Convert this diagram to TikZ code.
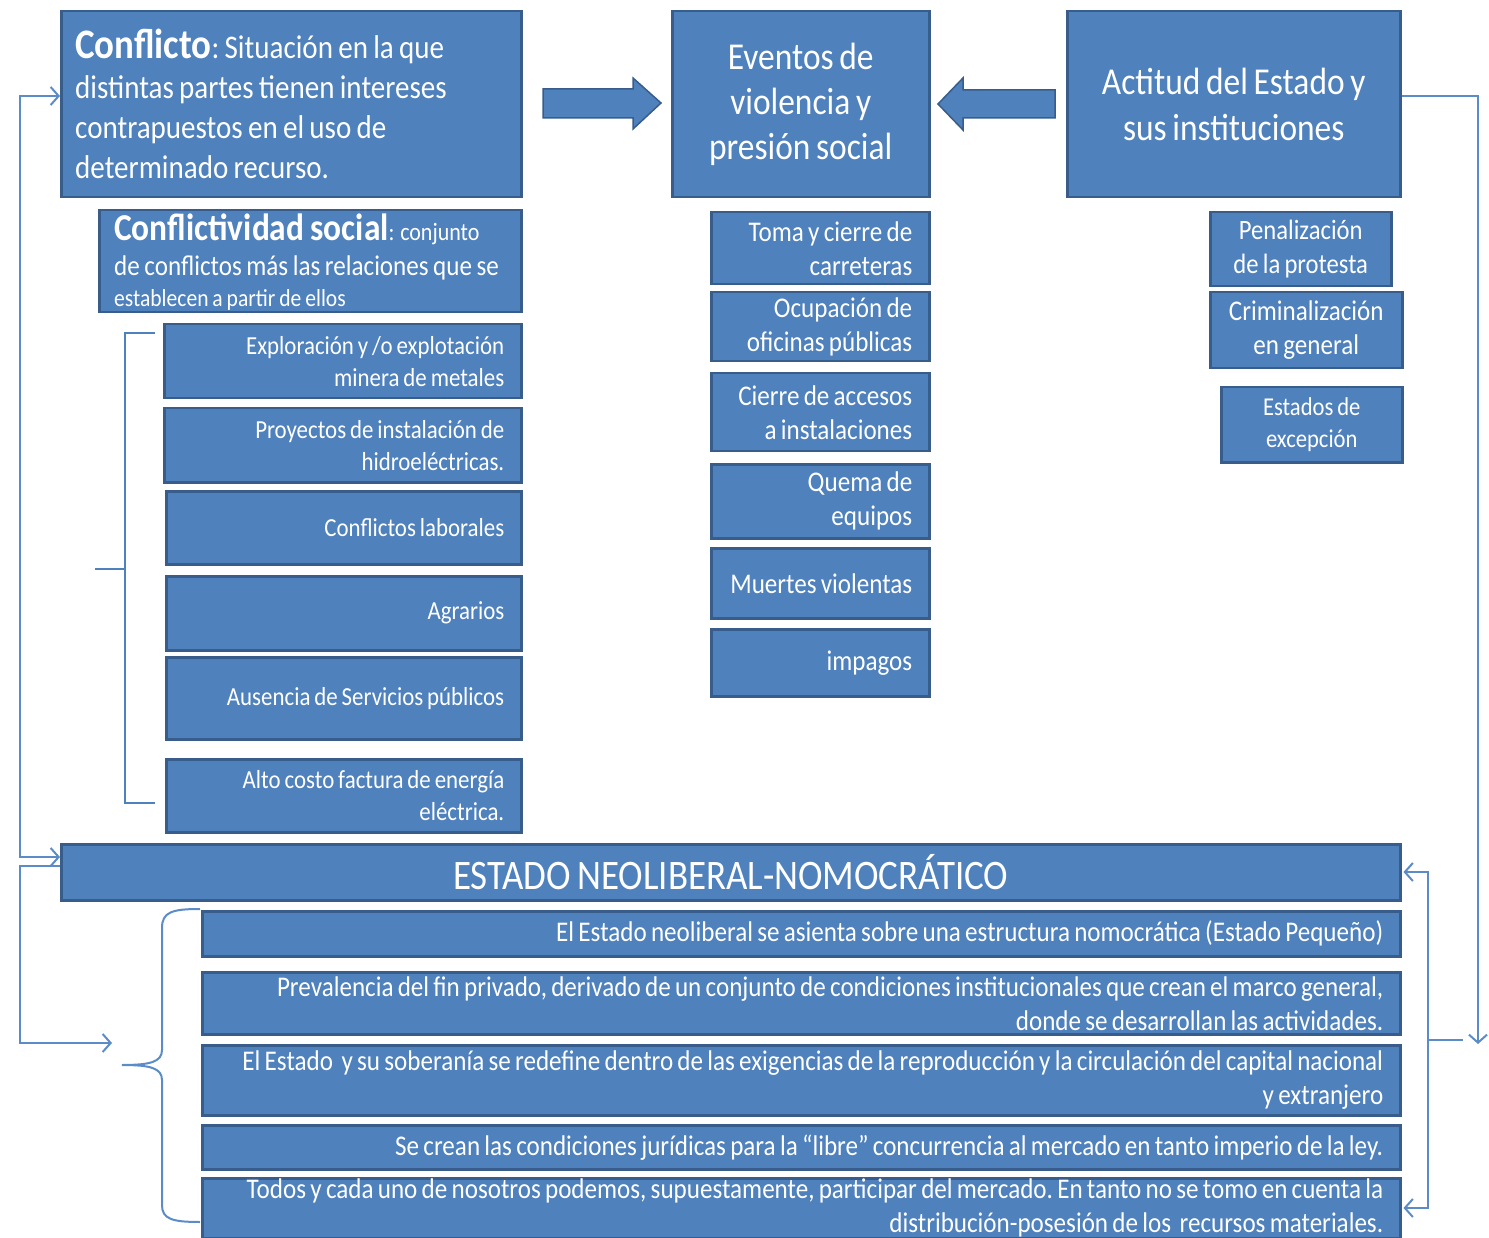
\documentclass[tikz,border=0pt]{standalone}
\usepackage{fontspec}
\setmainfont{Carlito}[FakeStretch=0.88]
\usetikzlibrary{arrows.meta,calc}
\definecolor{bfill}{HTML}{4F81BD}
\definecolor{bline}{HTML}{385D8A}
\definecolor{cline}{HTML}{5B8CC8}
\newcommand\fs[2]{\fontsize{#1}{#2}\selectfont\spaceskip=0.16em\relax}
\newcommand\tsp{\frenchspacing\spaceskip=0.15em\relax\hyphenpenalty=10000\relax\hbadness=10000\relax}
\newcommand\pbox[7]{%
  \pgfmathsetmacro\bw{#5-#3}\pgfmathsetmacro\bh{#6-#4}\pgfmathsetmacro\tw{#5-#3-34}%
  \node[box, minimum width=\bw pt, minimum height=\bh pt, text width=\tw pt, #2] (#1) at (#3,#4) {\tsp #7};}
\begin{document}
\begin{tikzpicture}[x=1pt,y=-1pt,
  box/.style={draw=bline, fill=bfill, line width=2.5pt, text=white, anchor=north west, inner sep=0pt},
  rt/.style={align=right},
  ct/.style={align=center},
  wtxt/.style={text=white, inner sep=0pt},
  conn/.style={draw=cline, line width=2pt},
  tip/.style={-{Straight Barb[length=8pt,width=18pt]}},
  fat/.style={fill=bfill, draw=bline, line width=1.5pt, line join=miter}]
\useasboundingbox (0,0) rectangle (1489,1238);

% top row
\pbox{confl}{}{60}{10}{520}{196}{}
\node[wtxt, anchor=north west, align=left, font=\fs{33}{40}] (conflt) at (75,29)
 {\frenchspacing{\fs{42}{40}\bfseries Conflicto}{\fs{33}{40}: Situación en la que}\\distintas partes tienen intereses\\contrapuestos en el uso de\\determinado recurso.};
\pbox{evt}{ct, font=\fs{38}{45}}{671}{10}{928}{196}{Eventos de\\violencia y\\presión social\\[-4pt]}
\pbox{act}{ct, font=\fs{38}{46}}{1066}{10}{1399}{196}{Actitud del Estado y\\sus instituciones\\[6pt]}

% fat arrows
\draw[fat] (543,89) -- (633,89) -- (633,78) -- (661,103) -- (633,129) -- (633,118) -- (543,118) -- cycle;
\draw[fat] (1055,90) -- (963,90) -- (963,78) -- (938,104) -- (963,130) -- (963,118) -- (1055,118) -- cycle;

% conflictividad
\pbox{csoc}{}{98}{209}{520}{311}{}
\node[wtxt, anchor=north west, align=left, font=\fs{28.5}{35}] (csoct) at (114,214)
 {{\fs{38}{35}\bfseries Conflictividad social}{\fs{25}{35}: conjunto}\\de conflictos más las relaciones que se\\[-4pt]{\fs{24.5}{30}establecen a partir de ellos}};

% left items
\pbox{l1}{rt, font=\fs{26}{32}}{163}{323}{520}{397}{Exploración y /o explotación\\minera de metales}
\pbox{l2}{rt, font=\fs{26}{32}}{163}{407}{520}{481}{Proyectos de instalación de\\hidroeléctricas.}
\pbox{l3}{rt, font=\fs{26}{32}}{165}{490}{520}{563}{Conflictos laborales}
\pbox{l4}{rt, font=\fs{26}{32}}{165}{575}{520}{649}{Agrarios}
\pbox{l5}{rt, font=\fs{26}{32}}{165}{656}{520}{738}{Ausencia de Servicios públicos}
\pbox{l6}{rt, font=\fs{26}{32}}{165}{758}{520}{831}{Alto costo factura de energía\\eléctrica.}

% middle items
\pbox{m1}{rt, font=\fs{28.5}{34}}{710}{211}{928}{283}{Toma y cierre de\\carreteras}
\pbox{m2}{rt, font=\fs{28.5}{34}}{710}{291}{928}{360}{Ocupación de\\oficinas públicas}
\pbox{m3}{rt, font=\fs{28.5}{34}}{710}{372}{928}{450}{Cierre de accesos\\a instalaciones}
\pbox{m4}{rt, font=\fs{28.5}{34}}{710}{463}{928}{537}{Quema de\\equipos}
\pbox{m5}{rt, font=\fs{28.5}{34}}{710}{547}{928}{617}{Muertes violentas}
\pbox{m6}{rt, font=\fs{28.5}{34}}{710}{628}{928}{695}{impagos}

% right items
\pbox{r1}{ct, font=\fs{28}{34}}{1209}{211}{1390}{285}{Penalización\\de la protesta}
\pbox{r2}{ct, font=\fs{28.5}{34}}{1209}{291}{1401}{367}{Criminalización\\en general}
\pbox{r3}{ct, font=\fs{25.7}{32}}{1220}{386}{1401}{461}{Estados de\\excepción}

% bottom
\pbox{est}{ct, font=\fs{42}{46}}{60}{843}{1399}{899}{ESTADO NEOLIBERAL-NOMOCRÁTICO}
\pbox{b1}{rt, font=\fs{28.5}{34}}{201}{910}{1399}{955}{El Estado neoliberal se asienta sobre una estructura nomocrática (Estado Pequeño)}
\pbox{b2}{rt, font=\fs{28.5}{34}}{201}{971}{1399}{1033}{Prevalencia del fin privado, derivado de un conjunto de condiciones institucionales que crean el marco general,\\donde se desarrollan las actividades.}
\pbox{b3}{rt, font=\fs{28.5}{34}}{201}{1044}{1399}{1114}{El Estado \ y su soberanía se redefine dentro de las exigencias de la reproducción y la circulación del capital nacional\\y extranjero}
\pbox{b4}{rt, font=\fs{28.5}{34}}{201}{1124}{1399}{1168}{Se crean las condiciones jurídicas para la “libre” concurrencia al mercado en tanto imperio de la ley.}
\pbox{b5}{rt, font=\fs{28.5}{34}}{201}{1177}{1399}{1237}{Todos y cada uno de nosotros podemos, supuestamente, participar del mercado. En tanto no se tomo en cuenta la\\distribución-posesión de los \ recursos materiales.}

% left bracket of items
\coordinate (lbt) at (155,333);
\coordinate (lbb) at (155,803);
\coordinate (lbm) at (95,569);
\draw[conn, draw=bfill] (lbt) -- (125,333) -- (125,803) -- (lbb);
\draw[conn, draw=bfill] (125,569) -- (lbm);

% connectors left
\coordinate (ca) at ($(confl.north west)+(0,86)$);
\coordinate (ea) at ($(est.north west)+(0,14)$);
\coordinate (eb) at ($(est.north west)+(0,23)$);
\coordinate (bt) at (112,1043);
\draw[conn, {Straight Barb[length=8pt,width=18pt]}-{Straight Barb[length=8pt,width=18pt]}] (ca) -- (20,96) -- (20,857) -- (ea);
\draw[conn, tip] (eb) -- (20,866) -- (20,1043) -- (bt);

% brace
\draw[conn] (200,909) .. controls (172,909) and (162,912) .. (162,928) -- (162,1050)
  .. controls (162,1062) and (150,1065) .. (122,1065)
  .. controls (150,1065) and (162,1068) .. (162,1080) -- (162,1205)
  .. controls (162,1219) and (172,1222) .. (200,1222);

% right connectors
\coordinate (aa) at ($(act.north east)+(0,86)$);
\coordinate (rdown) at (1478,1044);
\draw[conn, tip] (aa) -- (1478,96) -- (rdown);
\coordinate (rt1) at ($(est.north east)+(2,29)$);
\coordinate (rt2) at ($(b5.north east)+(2,31)$);
\coordinate (rm) at (1463,1040);
\draw[conn, {Straight Barb[length=8pt,width=18pt]}-{Straight Barb[length=8pt,width=18pt]}] (rt1) -- (1428,872) -- (1428,1208) -- (rt2);
\draw[conn] (1428,1040) -- (rm);
\end{tikzpicture}
\end{document}
